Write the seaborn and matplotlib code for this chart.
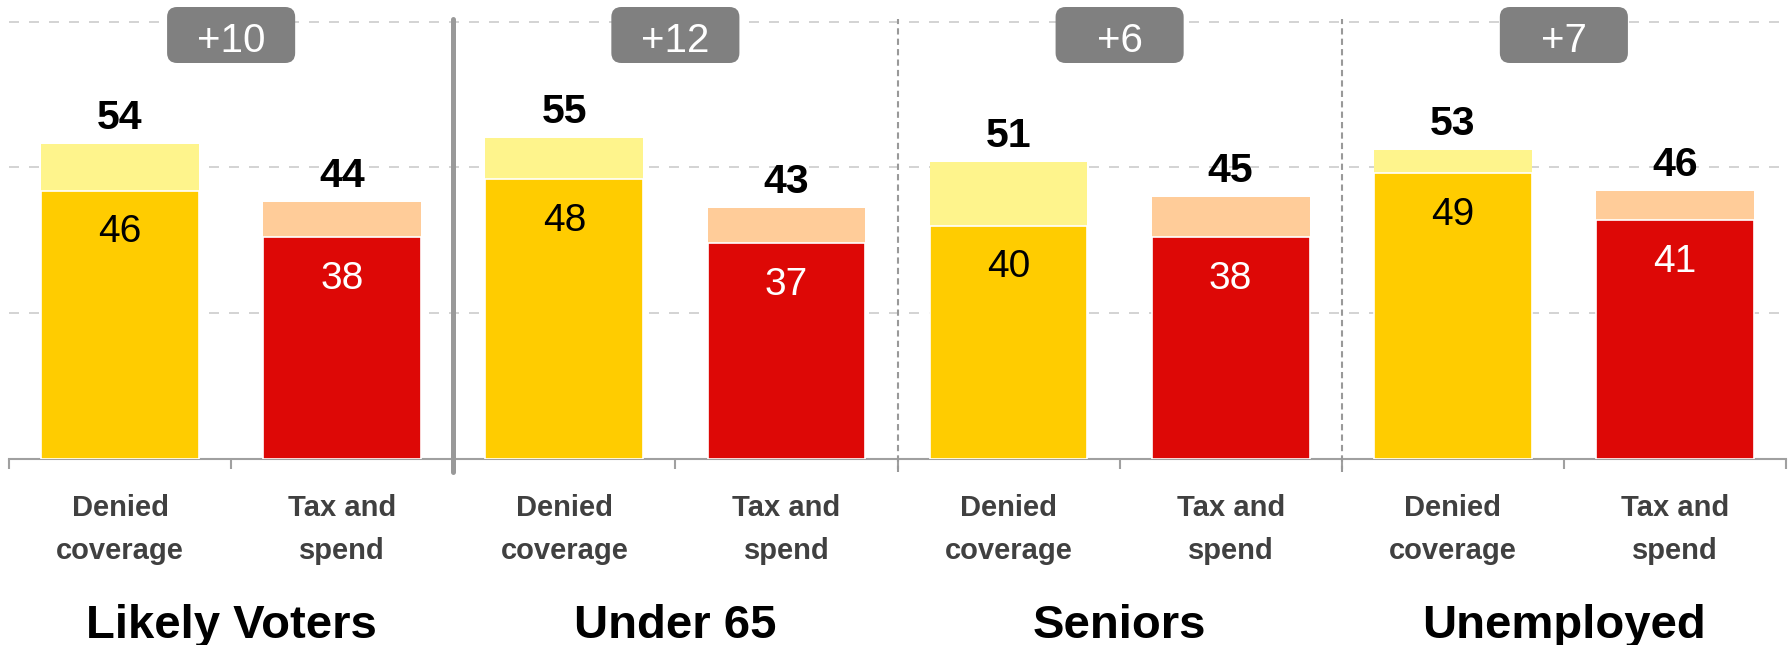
import numpy as np
import pandas as pd
import matplotlib.pyplot as plt
import seaborn as sns
from matplotlib.patches import FancyBboxPatch

# data
groups = ['Likely Voters', 'Under 65', 'Seniors', 'Unemployed']
issues = ['Denied\ncoverage', 'Tax and\nspend']
denied_total = [54, 55, 51, 53]
denied_strong = [46, 48, 40, 49]
tax_total = [44, 43, 45, 46]
tax_strong = [38, 37, 38, 41]
margins = ['+10', '+12', '+6', '+7']

base_colors = ['#FFCC00', '#DD0806']
light_colors = ['#FEF48C', '#FFCC99']
inner_text_colors = ['black', 'white']

sns.set_style('white')
plt.rcParams['font.family'] = ['Liberation Sans', 'DejaVu Sans']

rows = []
for g, dt, ds, tt, ts in zip(groups, denied_total, denied_strong, tax_total, tax_strong):
    rows.append({'group': g, 'issue': issues[0], 'total': dt, 'strong': ds, 'kind': 0})
    rows.append({'group': g, 'issue': issues[1], 'total': tt, 'strong': ts, 'kind': 1})
df = pd.DataFrame(rows)
df['slot'] = df['group'] + '|' + df['issue']
order = list(df['slot'])

light_pal = {s: light_colors[k] for s, k in zip(df['slot'], df['kind'])}
base_pal = {s: base_colors[k] for s, k in zip(df['slot'], df['kind'])}

W, H = 1791, 645
ax_left, ax_right, ax_base = 9, 1786, 459
fig = plt.figure(figsize=(W / 100, H / 100), dpi=100)
ax = fig.add_axes([ax_left / W, 1 - ax_base / H, (ax_right - ax_left) / W, ax_base / H])

px_per_unit = 5.833
sns.barplot(data=df, x='slot', y='total', hue='slot', order=order, palette=light_pal,
            saturation=1, width=0.71, legend=False, ax=ax, zorder=2, linewidth=0)
sns.barplot(data=df, x='slot', y='strong', hue='slot', order=order, palette=base_pal,
            saturation=1, width=0.71, legend=False, ax=ax, zorder=3,
            edgecolor='white', linewidth=1.2)

ax.set_xlim(-0.5, len(order) - 0.5)
ax.set_ylim(0, ax_base / px_per_unit)
ax.set_xlabel('')
ax.set_ylabel('')

# dashed horizontal gridlines
ax.set_yticks([25, 50, 75])
ax.tick_params(axis='y', length=0, labelleft=False)
ax.yaxis.grid(True, color='#CCCCCC', linestyle=(0, (6, 6)), linewidth=1.2)
ax.set_axisbelow(True)

for side in ['left', 'right', 'top']:
    ax.spines[side].set_visible(False)
ax.spines['bottom'].set_color('#A0A0A0')
ax.spines['bottom'].set_linewidth(1.5)

# ticks at slot boundaries, labels at slot centres
ax.set_xticks(np.arange(-0.5, len(order), 1))
ax.set_xticklabels([''] * (len(order) + 1))
ax.tick_params(axis='x', which='major', bottom=True, length=7.2, width=1.5, color='#A0A0A0')
ax.set_xticks(np.arange(len(order)), minor=True)
ax.set_xticklabels(list(df['issue']), minor=True, fontsize=21, fontweight='bold', color='#404040')
ax.tick_params(axis='x', which='minor', bottom=True, length=0, pad=25.5)
for lab in ax.get_xticklabels(minor=True):
    lab.set_linespacing(1.65)

# group separators
for k in range(1, len(groups)):
    xb = 2 * k - 0.5
    if k == 1:
        ax.axvline(xb, ymin=-13 / ax_base, ymax=440 / ax_base, color='#999999',
                   linewidth=3.6, clip_on=False, zorder=4)
    else:
        ax.axvline(xb, ymin=-13 / ax_base, ymax=440 / ax_base, color='#999999',
                   linewidth=1.5, linestyle=(0, (3, 2)), clip_on=False, zorder=4)

# value labels
for i, r in df.iterrows():
    ax.annotate(str(r['total']), (i, r['total']), xytext=(0, 10.8), textcoords='offset points',
                ha='center', va='baseline', fontsize=29.5, fontweight='bold', color='black', zorder=5)
    ax.annotate(str(r['strong']), (i, r['strong']), xytext=(0, -30), textcoords='offset points',
                ha='center', va='center', fontsize=28, color=inner_text_colors[r['kind']], zorder=5)

# group names and margin badges
xt = ax.get_xaxis_transform()
box_w = 128 / 222
box_h = 56 / ax_base
for k, (g, m) in enumerate(zip(groups, margins)):
    xc = 2 * k + 0.5
    ax.text(xc, (ax_base - 638) / ax_base, g, transform=xt, ha='center', va='baseline',
            fontsize=34, fontweight='bold', color='black', clip_on=False)
    badge = FancyBboxPatch((xc - box_w / 2, (ax_base - 63) / ax_base), box_w, box_h,
                           boxstyle='round,pad=0,rounding_size=0.045',
                           mutation_aspect=222 / ax_base, transform=xt,
                           facecolor='#808080', edgecolor='none', zorder=6, clip_on=False)
    ax.add_patch(badge)
    ax.text(xc, (ax_base - 52) / ax_base, m, transform=xt, ha='center', va='baseline',
            fontsize=29, color='white', zorder=7)

fig.savefig('out.png', dpi=100)
